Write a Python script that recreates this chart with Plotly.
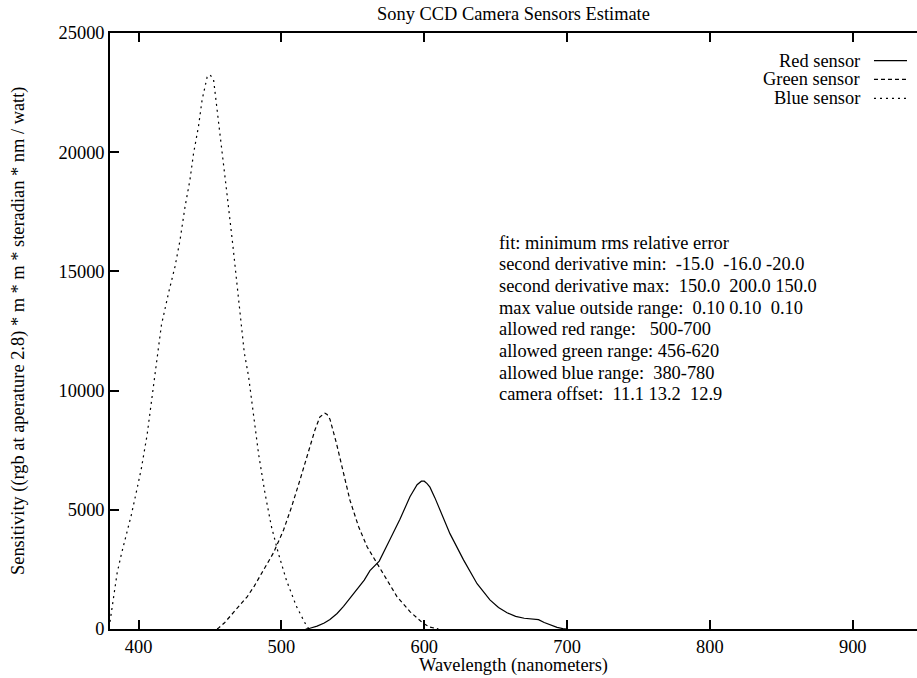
import plotly.graph_objects as go

# ---- data ----
blue_wl = [380, 381, 382.5, 385, 388, 392, 395, 399, 402, 406, 409, 412, 414, 416, 421,
           425.5, 429, 432.5, 436, 438.5, 442, 444.5, 448, 450, 452.5, 455, 458, 462, 466,
           470, 474, 477, 480, 484, 488.5, 493, 498, 503.5, 510.5, 515, 518, 520]
blue_val = [300, 700, 1500, 2350, 3150, 4050, 4800, 5900, 6750, 8150, 9500, 10950, 11950,
            12750, 14100, 15200, 16300, 17700, 18850, 19950, 21100, 22200, 23150, 23250,
            23050, 21700, 20300, 18200, 16100, 13800, 11600, 10600, 9100, 7350, 5700, 4300,
            3150, 2050, 950, 400, 80, 0]

green_wl = [455, 456, 460, 466, 471, 476, 481, 485, 490, 494.5, 501.5, 507, 513, 519, 523.5,
            527, 530.5, 532, 534, 538.5, 543.5, 548, 554, 560, 567, 574, 581, 590, 599, 604,
            608, 610]
green_val = [0, 40, 250, 650, 1000, 1350, 1800, 2200, 2700, 3200, 4150, 5100, 6250, 7400,
             8350, 8900, 9050, 9000, 8800, 7800, 6500, 5400, 4300, 3450, 2750, 2050, 1350,
             730, 250, 80, 10, 0]

red_wl = [517, 520, 525, 530, 534, 539, 543.5, 548, 553, 558, 562, 568.5, 576, 583, 590, 595,
          598, 600, 602, 604, 607.5, 611, 618, 627.5, 637, 646, 652, 658, 664, 670, 678, 680,
          684, 688, 693, 697, 700]
red_val = [0, 30, 120, 250, 400, 650, 950, 1280, 1650, 2050, 2450, 2850, 3750, 4600, 5550,
           6050, 6200, 6200, 6100, 5950, 5500, 5000, 4000, 2900, 1900, 1220, 900, 680, 530,
           450, 420, 390, 270, 170, 70, 15, 0]

x_ticks = [400, 500, 600, 700, 800, 900]
y_ticks = [0, 5000, 10000, 15000, 20000, 25000]
y_tick_labels = ["0", "5000", "10000", "15000", "20000", "25000"]

series_names = ["Red sensor", "Green sensor", "Blue sensor"]

fit_lines = [
    "fit: minimum rms relative error",
    "second derivative min:  -15.0  -16.0 -20.0",
    "second derivative max:  150.0  200.0 150.0",
    "max value outside range:  0.10 0.10  0.10",
    "allowed red range:   500-700",
    "allowed green range: 456-620",
    "allowed blue range:  380-780",
    "camera offset:  11.1 13.2  12.9",
]

FONT = "Liberation Serif, Times New Roman, serif"
FS = 18.4
dashes = ["solid", "4px,3px", "2px,4px"]


def keep_spaces(s):
    return s.replace("  ", " \u00a0")


fig = go.Figure()
for wl, val, name, d in [(red_wl, red_val, series_names[0], dashes[0]),
                         (green_wl, green_val, series_names[1], dashes[1]),
                         (blue_wl, blue_val, series_names[2], dashes[2])]:
    fig.add_trace(go.Scatter(x=wl, y=val, mode="lines", name=name,
                             line=dict(color="black", width=1.2, dash=d),
                             showlegend=False))

tfont = dict(family=FONT, size=FS, color="black")

# gnuplot-style key: right-aligned text with line samples to the right
key_y = [0.9535, 0.9223, 0.8904]
for name, d, ky in zip(series_names, dashes, key_y):
    fig.add_annotation(x=0.9318, y=ky, xref="paper", yref="paper", text=name,
                       showarrow=False, xanchor="right", yanchor="middle", font=tfont)
    fig.add_shape(type="line", xref="paper", yref="paper", x0=0.9467, x1=0.9876,
                  y0=ky, y1=ky, line=dict(color="black", width=1.2, dash=d))

# fit description block
line_px = [242.7, 264.3, 286, 307.7, 329.4, 351.1, 372.8, 394.5]
for txt, py in zip(fit_lines, line_px):
    fig.add_annotation(x=(497 - 110) / 807, y=(629 - py) / 596, xref="paper", yref="paper",
                       text=keep_spaces(txt), showarrow=False, align="left",
                       xanchor="left", yanchor="middle", font=tfont)

# axis titles
fig.add_annotation(x=0.5, y=(629 - 665) / 596, xref="paper", yref="paper",
                   text="Wavelength (nanometers)", showarrow=False,
                   xanchor="center", yanchor="middle", font=tfont)
fig.add_annotation(x=(18 - 110) / 807, y=0.5, xref="paper", yref="paper",
                   text="Sensitivity ((rgb at aperature 2.8) * m * m * steradian * nm / watt)",
                   textangle=-90, showarrow=False, xanchor="center", yanchor="middle",
                   font=tfont)

fig.update_layout(
    width=917, height=678,
    margin=dict(l=110, r=0, t=33, b=49),
    paper_bgcolor="white", plot_bgcolor="white",
    font=tfont,
    title=dict(text="Sony CCD Camera Sensors Estimate", x=0.5, xref="paper",
               xanchor="center", y=1 - 14 / 678, yref="container", yanchor="middle",
               font=tfont),
    xaxis=dict(range=[380, 945], tickvals=x_ticks, ticks="inside", ticklen=9,
               tickwidth=1.5, tickcolor="black", showline=True, linecolor="black",
               linewidth=1.5, mirror="ticks", showgrid=False, zeroline=False,
               tickfont=tfont),
    yaxis=dict(range=[0, 25000], tickvals=y_ticks, ticktext=y_tick_labels,
               ticks="inside", ticklen=9,
               tickwidth=1.5, tickcolor="black", showline=True, linecolor="black",
               linewidth=1.5, mirror=False, showgrid=False, zeroline=False,
               tickfont=tfont),
)

fig.write_html("out.html")
